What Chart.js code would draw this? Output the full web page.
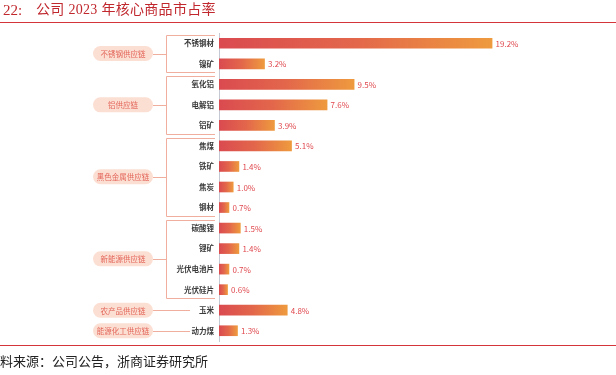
<!DOCTYPE html>
<html>
<head>
<meta charset="utf-8">
<script src="https://cdn.jsdelivr.net/npm/chart.js@4/dist/chart.umd.min.js"></script>
<style>
  html, body { margin:0; padding:0; background:#fff; }
  #wrap { position:relative; width:616px; height:375px; overflow:hidden; }
  #c { position:absolute; left:0; top:0; }
  .title { position:absolute; top:1px; font-family:"Liberation Serif", "Noto Sans CJK SC", serif; font-size:14px; color:#c0282e; white-space:pre; line-height:18px; }
  #tline { position:absolute; left:0; top:22px; width:616px; height:1px; background:#d4353a; }
  #bline { position:absolute; left:0; top:345px; width:616px; height:1px; background:#d4353a; }
  #src { position:absolute; left:0; top:353px; font-family:"Noto Sans CJK SC", sans-serif; font-size:13px; color:#222; line-height:16px; white-space:pre; }
</style>
</head>
<body>
<div id="wrap">
  <canvas id="c" width="616" height="375"></canvas>
  <div class="title" style="left:3px;font-size:15px;">22:</div>
  <div class="title" style="left:36px;letter-spacing:0.3px;">公司 2023 年核心商品市占率</div>
  <div id="tline"></div>
  <div id="bline"></div>
  <div id="src">料来源：公司公告，浙商证券研究所</div>
</div>
<script>
const categories = ['不锈钢材','镍矿','氧化铝','电解铝','铝矿','焦煤','铁矿','焦炭','钢材','碳酸锂','锂矿','光伏电池片','光伏硅片','玉米','动力煤'];
const shares = [19.2, 3.2, 9.5, 7.6, 3.9, 5.1, 1.4, 1.0, 0.7, 1.5, 1.4, 0.7, 0.6, 4.8, 1.3];
const groupNames = ['不锈钢供应链','铝供应链','黑色金属供应链','新能源供应链','农产品供应链','能源化工供应链'];
const categoryGroup = [0,0,1,1,1,2,2,2,2,3,3,3,3,4,5];

const CJK = '"Noto Sans CJK SC", sans-serif';

const groupPlugin = {
  id: 'groups',
  afterDraw(chart) {
    const ctx = chart.ctx;
    const y = chart.scales.y;
    const band = Math.abs(y.getPixelForValue(1) - y.getPixelForValue(0));
    const pillL = 93, pillR = 153, pillH = 15, brX = 166.5, brR = 215;
    ctx.save();
    groupNames.forEach((name, g) => {
      const idx = [];
      categoryGroup.forEach((v, i) => { if (v === g) idx.push(i); });
      const yFirst = y.getPixelForValue(idx[0]);
      const yLast = y.getPixelForValue(idx[idx.length - 1]);
      const mid = (yFirst + yLast) / 2;
      ctx.strokeStyle = '#f0ae9f';
      ctx.lineWidth = 1;
      ctx.beginPath();
      if (idx.length > 1) {
        const top = Math.round(yFirst - band / 2 + 2) + 0.5;
        const bot = Math.round(yLast + band / 2 - 2) + 0.5;
        ctx.moveTo(brR, top); ctx.lineTo(brX, top); ctx.lineTo(brX, bot); ctx.lineTo(brR, bot);
        ctx.moveTo(pillR, Math.round(mid) + 0.5); ctx.lineTo(brX, Math.round(mid) + 0.5);
      } else {
        ctx.moveTo(pillR, Math.round(mid) + 0.5); ctx.lineTo(190, Math.round(mid) + 0.5);
      }
      ctx.stroke();
      const pt = mid - pillH / 2;
      const r = pillH / 2;
      ctx.beginPath();
      ctx.moveTo(pillL + r, pt);
      ctx.lineTo(pillR - r, pt);
      ctx.arc(pillR - r, mid, r, -Math.PI / 2, Math.PI / 2);
      ctx.lineTo(pillL + r, pt + pillH);
      ctx.arc(pillL + r, mid, r, Math.PI / 2, Math.PI * 1.5);
      ctx.closePath();
      ctx.fillStyle = '#fcdfd3';
      ctx.fill();
      ctx.fillStyle = '#e3665a';
      ctx.font = '7.5px ' + CJK;
      ctx.textAlign = 'center';
      ctx.textBaseline = 'middle';
      ctx.fillText(name, (pillL + pillR) / 2, mid + 0.5);
    });
    ctx.restore();
  }
};

const valuePlugin = {
  id: 'values',
  afterDatasetsDraw(chart) {
    const ctx = chart.ctx;
    const meta = chart.getDatasetMeta(0);
    ctx.save();
    ctx.font = '8px ' + CJK;
    ctx.fillStyle = '#e0484e';
    ctx.textAlign = 'left';
    ctx.textBaseline = 'middle';
    meta.data.forEach((bar, i) => {
      ctx.fillText(shares[i].toFixed(1) + '%', bar.x + 3.5, bar.y + 0.5);
    });
    ctx.restore();
  }
};

new Chart(document.getElementById('c'), {
  type: 'bar',
  data: {
    labels: categories,
    datasets: [{
      data: shares,
      barThickness: 10,
      backgroundColor: (c) => {
        const chart = c.chart;
        if (!chart.chartArea || c.parsed === undefined) return '#e2604a';
        const xs = chart.scales.x;
        const x0 = xs.getPixelForValue(0);
        const x1 = xs.getPixelForValue(c.parsed.x);
        if (!(x1 > x0)) return '#dc4b50';
        const g = chart.ctx.createLinearGradient(x0, 0, x1, 0);
        g.addColorStop(0, '#da4a50');
        g.addColorStop(0.5, '#e3674b');
        g.addColorStop(1, '#ee9a3e');
        return g;
      },
      borderWidth: 0
    }]
  },
  options: {
    indexAxis: 'y',
    responsive: false,
    animation: false,
    layout: { padding: { top: 33, bottom: 34, left: 0, right: 13 } },
    plugins: { legend: { display: false }, tooltip: { enabled: false } },
    scales: {
      x: { display: false, min: 0, max: 27 },
      y: {
        afterFit: (s) => { s.width = 219; },
        grid: { display: true, drawOnChartArea: false, drawTicks: false, color: 'rgba(0,0,0,0)' },
        border: { display: true, color: '#c5c9d3', width: 1 },
        ticks: { padding: 5, color: '#3a3a3a', font: { family: CJK, size: 7.5, weight: 'bold' } }
      }
    }
  },
  plugins: [groupPlugin, valuePlugin]
});
</script>
</body>
</html>
